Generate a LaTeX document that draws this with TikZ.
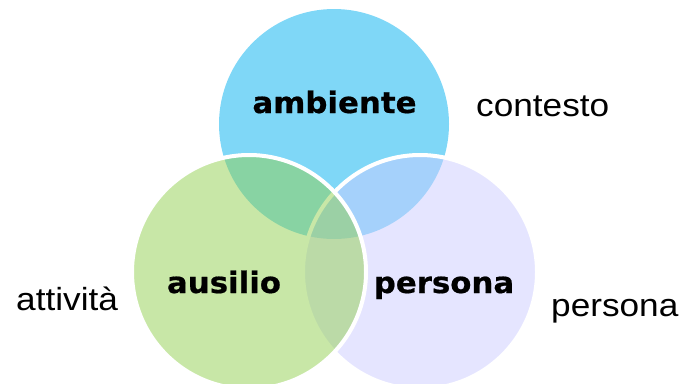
\documentclass[tikz,border=0pt]{standalone}
\usepackage{fontspec}
\setmainfont{Liberation Sans}
\newfontfamily\sidefont{Liberation Sans}[FakeStretch=1.1]
\newfontfamily\vfont{DejaVu Sans}[FakeStretch=1.045,BoldFeatures={FakeBold=0.6}]
\definecolor{cblue}{HTML}{00B0F0}
\definecolor{cgreen}{HTML}{92D050}
\definecolor{clav}{HTML}{CCCCFF}
\begin{document}
\begin{tikzpicture}[x=1pt,y=-1pt,
  venn/.style={circle,inner sep=0pt,outer sep=0pt,fill opacity=0.5,draw opacity=1},
  bigl/.style={inner sep=0pt,anchor=base,font=\vfont\bfseries\fontsize{29.5}{34}\selectfont},
  side/.style={inner sep=0pt,anchor=base west,font=\sidefont\fontsize{32}{36}\selectfont}]
\useasboundingbox (0,0) rectangle (682,383);
\node[venn,fill=cblue,minimum size=230pt] (amb) at (334,124) {};
\node[venn,fill=clav,draw=white,line width=4pt,minimum size=234pt] (per) at (420,272) {};
\node[venn,fill=cgreen,draw=white,line width=4pt,minimum size=234pt] (aus) at (249,272) {};
\node[bigl] (tamb) at (334.5,113) {ambiente};
\node[bigl] (taus) at (224,293) {ausilio};
\node[bigl] (tper) at (444,293) {persona};
\node[side] (tcon) at (476,116) {contesto};
\node[side] (tatt) at (16,310) {attività};
\node[side] (tper2) at (551,316) {persona};
\end{tikzpicture}
\end{document}
